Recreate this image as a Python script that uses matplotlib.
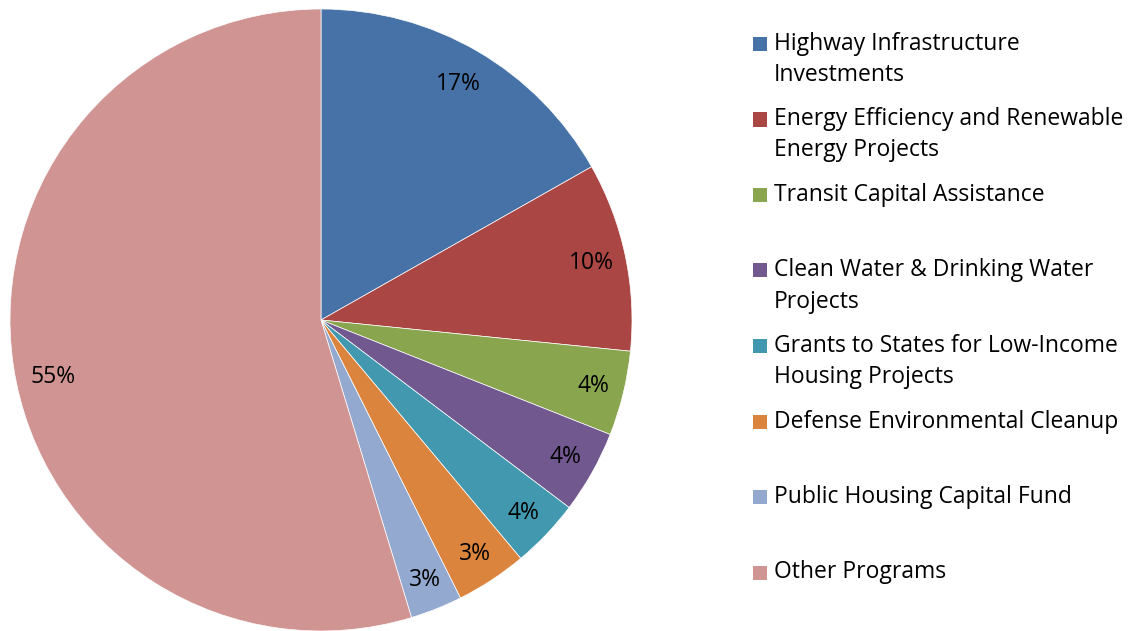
import numpy as np
import matplotlib.pyplot as plt
from matplotlib.patches import Rectangle

# slice shares and the printed labels
programs = ["Highway Infrastructure\nInvestments",
            "Energy Efficiency and Renewable\nEnergy Projects",
            "Transit Capital Assistance",
            "Clean Water & Drinking Water\nProjects",
            "Grants to States for Low-Income\nHousing Projects",
            "Defense Environmental Cleanup",
            "Public Housing Capital Fund",
            "Other Programs"]
shares = [16.8, 9.8, 4.4, 4.3, 3.6, 3.7, 2.7, 54.7]
pct_labels = ["17%", "10%", "4%", "4%", "4%", "3%", "3%", "55%"]
colors = ["#4672A8", "#AA4643", "#89A54E", "#71588F",
          "#4198AF", "#DB843D", "#93A9CF", "#D09493"]

plt.rcParams['font.family'] = ['Open Sans', 'DejaVu Sans']
W, H = 1137, 631
fs = 16.5
fig = plt.figure(figsize=(W / 100, H / 100), dpi=100)

ax = fig.add_axes([10 / W, 0.0, 622 / W, 622 / H])
wedges, _ = ax.pie(shares, colors=colors, startangle=90, counterclock=False,
                   wedgeprops=dict(linewidth=0.5, edgecolor="white"))
ax.set_aspect("equal")
ax.set_xlim(-1, 1)
ax.set_ylim(-1, 1)

# percentage labels near the middle angle of each slice
# (the big slice label sits a bit lower, as in the original)
dist = [0.88, 0.89, 0.9, 0.9, 0.9, 0.9, 0.9, 0.88]
angle_shift = [0, 0, 0, 0, 0, 0, 0, 3.5]
for w, lab, d, da in zip(wedges, pct_labels, dist, angle_shift):
    mid = np.deg2rad((w.theta1 + w.theta2) / 2 + da)
    ax.text(d * np.cos(mid), d * np.sin(mid), lab,
            ha="center", va="center", fontsize=fs, color="black")

# legend drawn by hand so wrapped entries keep the top alignment
line_gap = 31
slot = 75.5
y0 = 44
for i, (name, c) in enumerate(zip(programs, colors)):
    y = y0 + slot * i
    fig.patches.append(Rectangle((753 / W, 1 - (y + 7) / H), 14 / W, 14 / H,
                                 transform=fig.transFigure, facecolor=c,
                                 edgecolor="none"))
    for j, line in enumerate(name.split("\n")):
        fig.text(774 / W, 1 - (y + j * line_gap) / H, line,
                 ha="left", va="center", fontsize=fs, color="black")

fig.savefig("out.png", dpi=100)
